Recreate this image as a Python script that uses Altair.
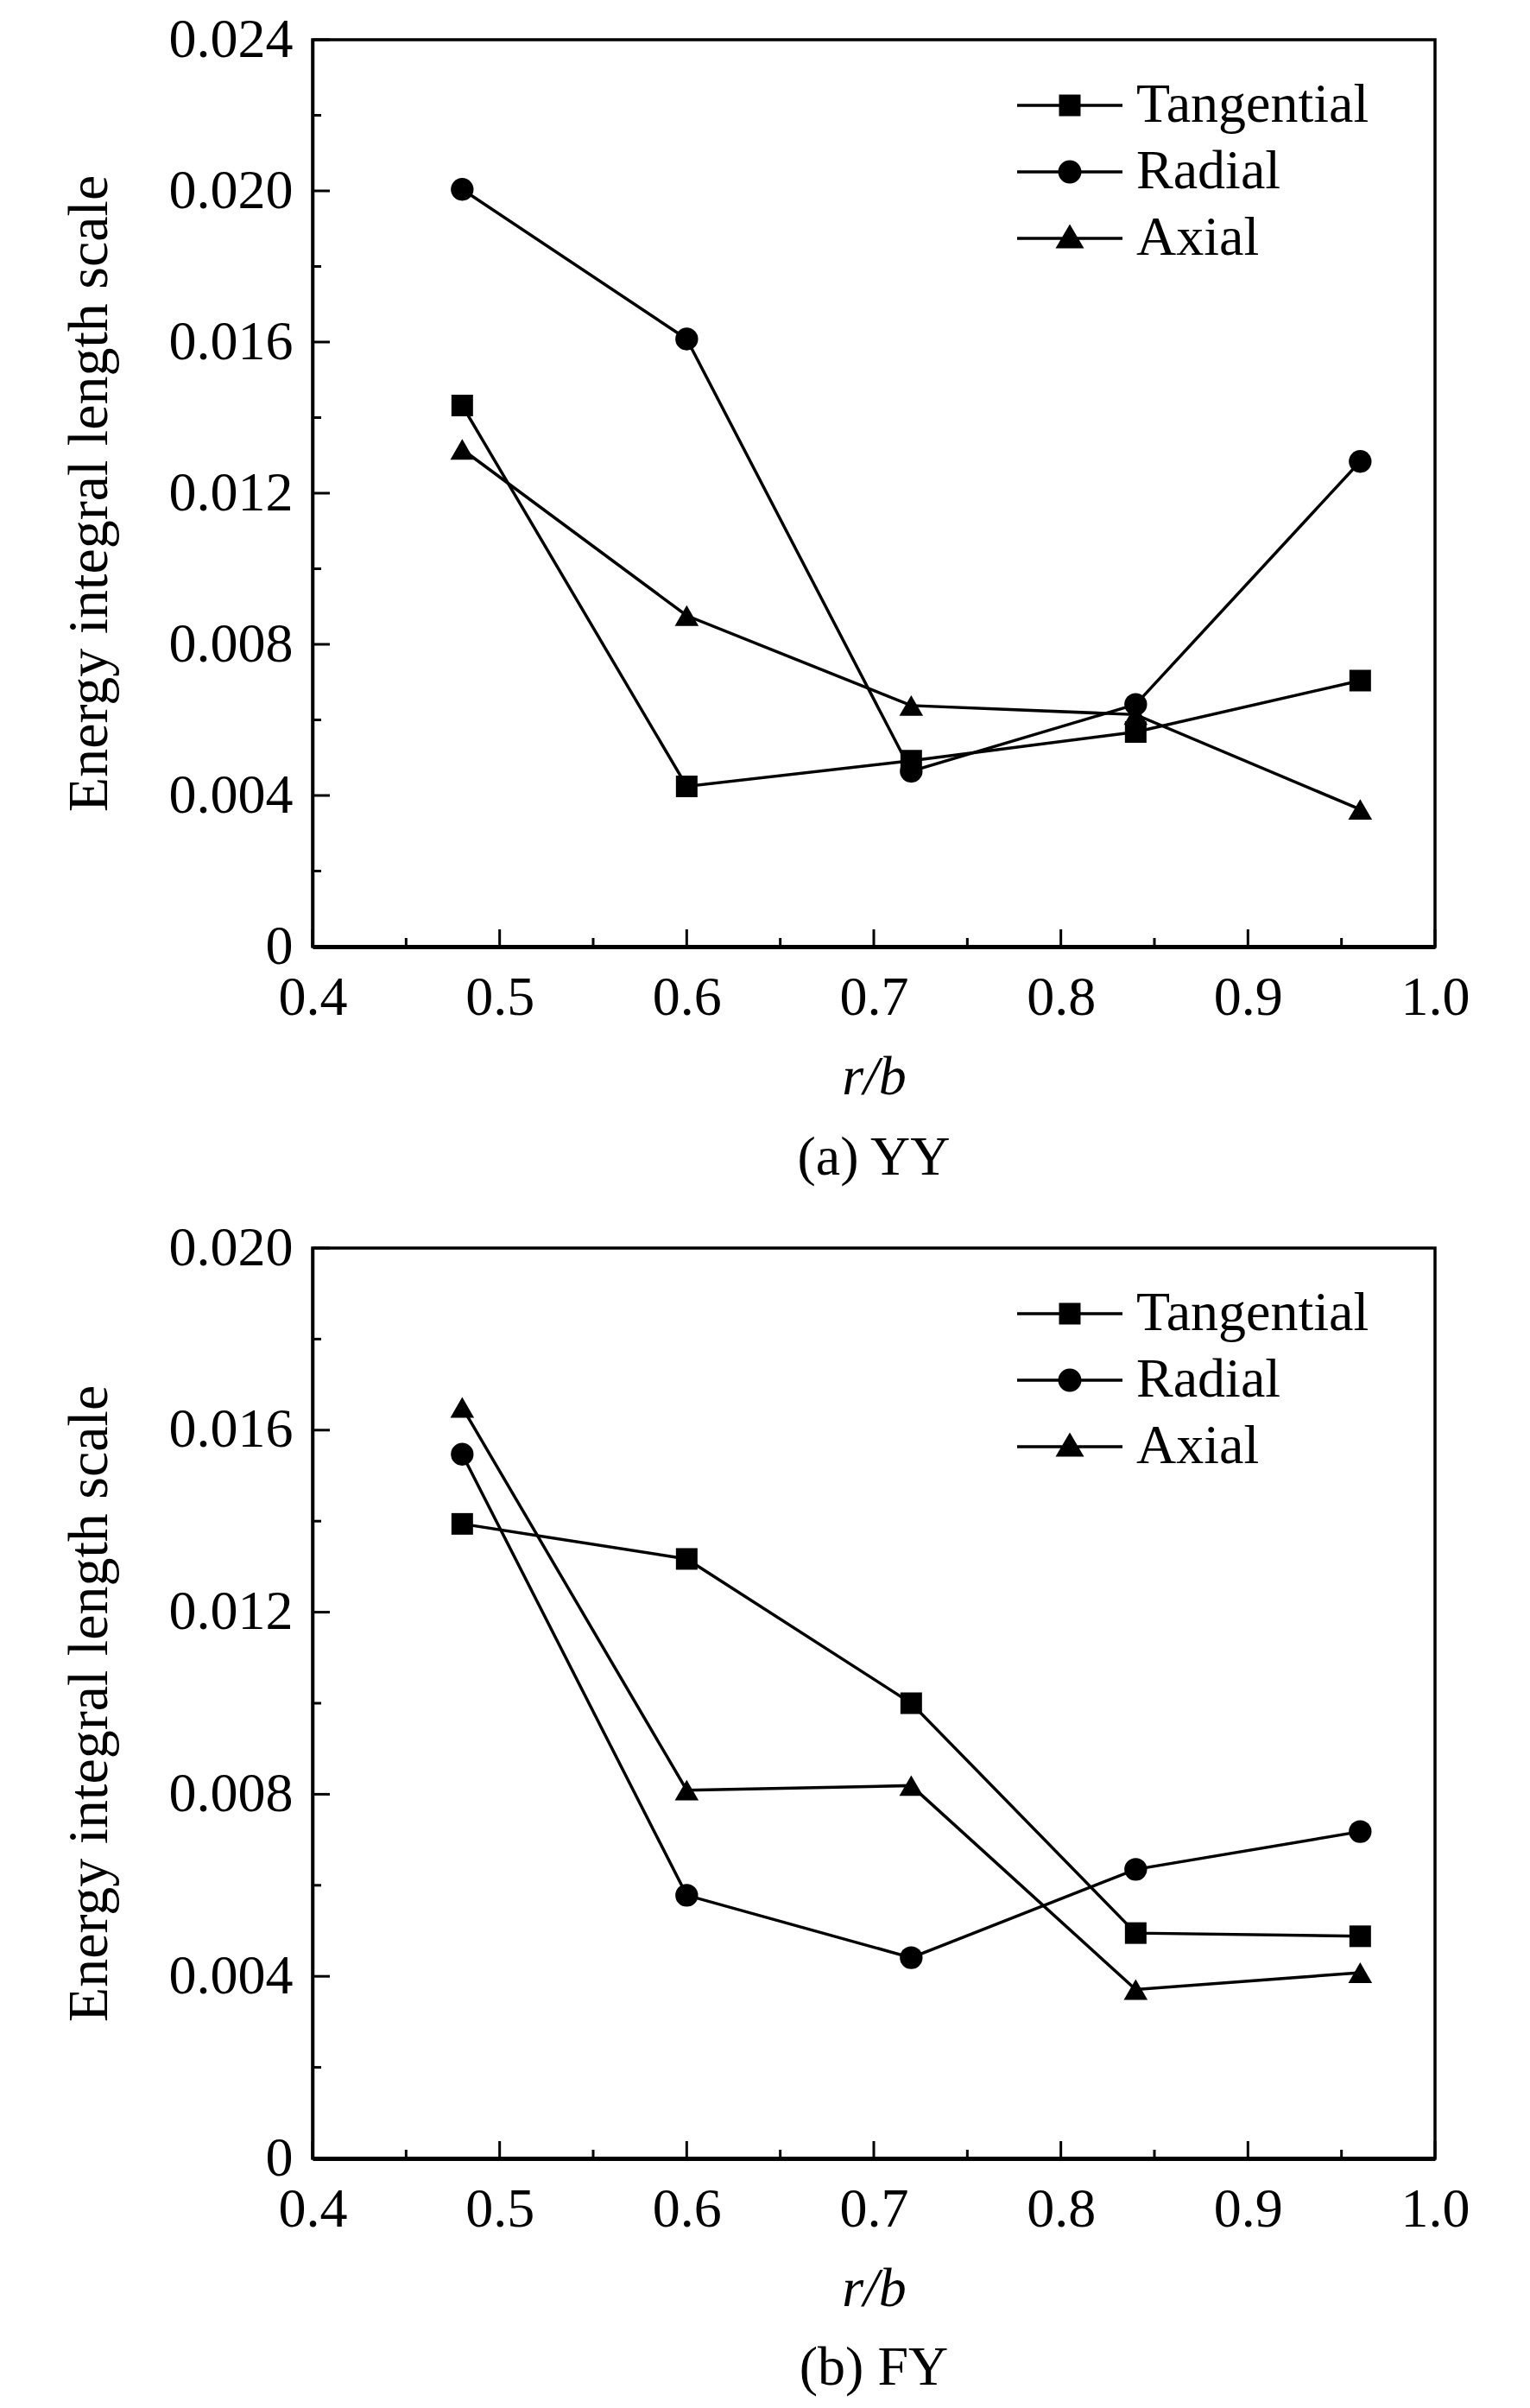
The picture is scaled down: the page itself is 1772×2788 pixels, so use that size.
import altair as alt
import pandas as pd

# ---------------- data ----------------
r_b = [0.48, 0.60, 0.72, 0.84, 0.96]
series_names = ["Tangential", "Radial", "Axial"]

yy_tangential = [0.01432, 0.00424, 0.00492, 0.00568, 0.00704]
yy_radial = [0.02004, 0.01608, 0.00464, 0.00641, 0.01284]
yy_axial = [0.01316, 0.00876, 0.00638, 0.00614, 0.00363]

fy_tangential = [0.01394, 0.01317, 0.01000, 0.00495, 0.00488]
fy_radial = [0.01547, 0.00578, 0.00441, 0.00635, 0.00718]
fy_axial = [0.01650, 0.00809, 0.00819, 0.00371, 0.00408]

x_major = [0.4, 0.5, 0.6, 0.7, 0.8, 0.9, 1.0]
x_minor = [0.45, 0.55, 0.65, 0.75, 0.85, 0.95]
yy_major = [0.0, 0.004, 0.008, 0.012, 0.016, 0.020, 0.024]
yy_minor = [0.002, 0.006, 0.010, 0.014, 0.018, 0.022]
fy_major = [0.0, 0.004, 0.008, 0.012, 0.016, 0.020]
fy_minor = [0.002, 0.006, 0.010, 0.014, 0.018]

FONT = "Liberation Serif"
W = 1300
MAJ = 20
MIN = 10

# legend symbols: line segment + marker (units: [-1,1] == symbol box)
legend_paths = [
    "M-1.968,-0.056L1.968,-0.056L1.968,0.056L-1.968,0.056Z"
    "M-0.403,-0.403L0.403,-0.403L0.403,0.403L-0.403,0.403Z",
    "M-1.968,-0.056L1.968,-0.056L1.968,0.056L-1.968,0.056Z"
    "M-0.435,0A0.435,0.435,0,1,1,0.435,0A0.435,0.435,0,1,1,-0.435,0Z",
    "M-1.968,-0.056L1.968,-0.056L1.968,0.056L-1.968,0.056Z"
    "M0,-0.532L0.532,0.371L-0.532,0.371Z",
]


def long_df(t, r, a):
    rows = []
    for name, vals in zip(series_names, [t, r, a]):
        for xv, v in zip(r_b, vals):
            rows.append({"r": xv, "v": v, "series": name})
    return pd.DataFrame(rows)


def panel(t, r, a, ymax, ymajor, yminor, caption, H, cap_offset):
    df = long_df(t, r, a)
    xscale = alt.Scale(domain=[0.4, 1.0], nice=False)
    yscale = alt.Scale(domain=[0, ymax], nice=False)
    xaxis = alt.Axis(
        values=x_major, format=".1f", title="r/b", ticks=False, grid=False,
        domainColor="black", domainWidth=5, labelFont=FONT, labelFontSize=64,
        labelColor="black", labelPadding=27, titleFont=FONT, titleFontSize=64,
        titleFontStyle="italic", titleFontWeight="normal", titleColor="black",
        titlePadding=28, labelFlush=False,
    )
    yaxis = alt.Axis(
        values=ymajor, labelExpr="datum.value == 0 ? '0' : format(datum.value, '.3f')",
        title="Energy integral length scale", ticks=False, grid=False,
        domainColor="black", domainWidth=3.5, labelFont=FONT, labelFontSize=64,
        labelColor="black", labelPadding=23, titleFont=FONT, titleFontSize=66,
        titleFontWeight="normal", titleColor="black", titlePadding=58,
        labelFlush=False,
    )
    X = alt.X("r:Q", scale=xscale, axis=xaxis)
    Y = alt.Y("v:Q", scale=yscale, axis=yaxis)

    base = alt.Chart(df)
    lines = base.mark_line(color="black", strokeWidth=3.5).encode(
        x=X, y=Y, detail="series:N"
    )
    points = base.mark_point(filled=True, color="black", opacity=1).encode(
        x=X, y=Y,
        shape=alt.Shape("series:N", scale=alt.Scale(domain=series_names,
                        range=["square", "circle", "triangle-up"]), legend=None),
        size=alt.Size("series:N", scale=alt.Scale(domain=series_names,
                      range=[625, 760, 1089]), legend=None),
    )
    legend_layer = (
        base.transform_calculate(legend_series="datum.series")
        .transform_filter("false")
        .mark_point(filled=True, color="black", opacity=1, size=3844)
        .encode(
            x=X, y=Y,
            shape=alt.Shape(
                "legend_series:N",
                scale=alt.Scale(domain=series_names, range=legend_paths),
                legend=alt.Legend(
                    title=None, orient="none", legendX=845, legendY=44,
                    labelFont=FONT, labelFontSize=64, labelColor="black",
                    labelOffset=45, symbolSize=3844, rowPadding=13, padding=0,
                    symbolFillColor="black", symbolStrokeColor="black",
                    symbolStrokeWidth=0, symbolOpacity=1, labelLimit=0,
                ),
            ),
        )
    )

    ymaj = alt.Chart(pd.DataFrame({"v": ymajor})).mark_rule(
        color="black", strokeWidth=3).encode(y=Y, x=alt.value(0), x2=alt.value(MAJ))
    ymin = alt.Chart(pd.DataFrame({"v": yminor})).mark_rule(
        color="black", strokeWidth=3).encode(y=Y, x=alt.value(0), x2=alt.value(MIN))
    xmaj = alt.Chart(pd.DataFrame({"r": x_major})).mark_rule(
        color="black", strokeWidth=3).encode(x=X, y=alt.value(H), y2=alt.value(H - MAJ))
    xmin = alt.Chart(pd.DataFrame({"r": x_minor})).mark_rule(
        color="black", strokeWidth=3).encode(x=X, y=alt.value(H), y2=alt.value(H - MIN))

    return (
        alt.layer(ymaj, ymin, xmaj, xmin, lines, points, legend_layer)
        .resolve_scale(shape="independent")
        .properties(
            width=W, height=H,
            title=alt.TitleParams(
                caption, orient="bottom", anchor="middle", frame="group",
                font=FONT, fontSize=64, fontWeight="normal", color="black",
                offset=cap_offset,
            ),
        )
    )


top = panel(yy_tangential, yy_radial, yy_axial, 0.024, yy_major, yy_minor,
            "(a) YY", 1050, 30)
bottom = panel(fy_tangential, fy_radial, fy_axial, 0.020, fy_major, fy_minor,
               "(b) FY", 1054, 28)

chart = (
    alt.vconcat(top, bottom, spacing=36)
    .properties(padding={"left": 60, "top": 4, "right": 5, "bottom": 5},
                background="white")
    .configure_view(stroke="black", strokeWidth=3.5)
)

chart.save("out.html", embed_options={"renderer": "svg", "actions": False})
